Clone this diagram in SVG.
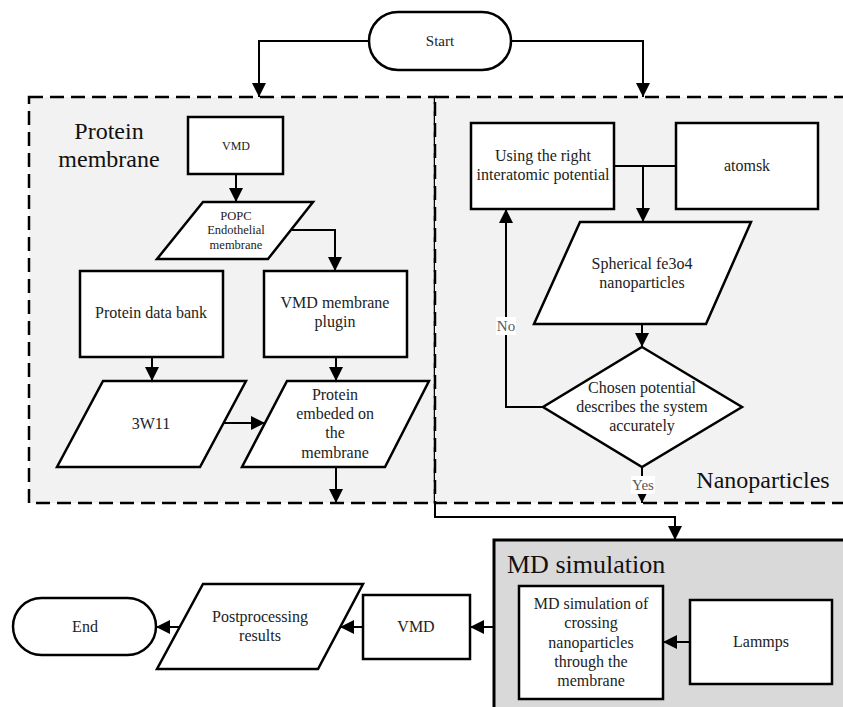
<svg xmlns="http://www.w3.org/2000/svg" width="843" height="707" viewBox="0 0 843 707">
<defs>
<marker id="ah" markerUnits="userSpaceOnUse" markerWidth="14" markerHeight="14" viewBox="0 0 14 14" refX="14" refY="7" orient="auto">
<path d="M0,0 L14,7 L0,14 z" fill="#000"/>
</marker>
</defs>
<style>
.box{fill:#fff;stroke:#000;stroke-width:2.5}
.panel{fill:#f2f2f2;stroke:#000;stroke-width:2.5;stroke-dasharray:14 7}
.md{fill:#d9d9d9;stroke:#000;stroke-width:3}
.t{font-family:"Liberation Serif","Times New Roman",serif;font-size:16px;fill:#222;text-anchor:middle}
.s{font-size:12px}
.big{font-family:"Liberation Serif","Times New Roman",serif;font-size:24px;fill:#111}
.lbl{font-family:"Liberation Serif","Times New Roman",serif;font-size:15px;fill:#595959;text-anchor:middle}
.c{fill:none;stroke:#000;stroke-width:2}
.ca{fill:none;stroke:#000;stroke-width:2;marker-end:url(#ah)}
</style>
<rect width="843" height="707" fill="#fff"/>

<g id="panel-protein">
<rect class="panel" x="29" y="97" width="406" height="406"/>
<text class="big" x="109" y="139" text-anchor="middle">Protein</text>
<text class="big" x="109" y="167" text-anchor="middle">membrane</text>
</g>
<g id="panel-nano">
<rect class="panel" x="435" y="97" width="412" height="406"/>
<text class="big" x="763" y="488" text-anchor="middle">Nanoparticles</text>
</g>
<g id="panel-md">
<rect class="md" x="494" y="540" width="353" height="172"/>
<text class="big" x="507" y="573" style="font-size:26px">MD simulation</text>
</g>

<g id="connectors">
<polyline class="ca" points="369,41 259,41 259,97"/>
<polyline class="ca" points="511,41 643,41 643,97"/>
<line class="ca" x1="236" y1="174" x2="236" y2="202"/>
<polyline class="ca" points="292,230 335,230 335,271"/>
<line class="ca" x1="152" y1="357" x2="152" y2="381"/>
<line class="ca" x1="336" y1="357" x2="336" y2="381"/>
<line class="ca" x1="223" y1="423" x2="265" y2="423"/>
<line class="ca" x1="336" y1="467" x2="336" y2="503"/>
<line class="c" x1="614" y1="166" x2="676" y2="166"/>
<line class="ca" x1="643" y1="166" x2="643" y2="222"/>
<line class="ca" x1="642" y1="324" x2="642" y2="347"/>
<polyline class="ca" points="543,407 506,407 506,209"/>
<line class="ca" x1="642" y1="467" x2="642" y2="503"/>
<polyline class="ca" points="435,503 435,517 675,517 675,540"/>
<line class="ca" x1="690" y1="642" x2="663" y2="642"/>
<line class="ca" x1="494" y1="627" x2="470" y2="627"/>
<line class="ca" x1="363" y1="627" x2="340" y2="627"/>
<line class="ca" x1="180" y1="627" x2="156" y2="627"/>
<rect x="496" y="317" width="20" height="18" fill="#fff"/>
<text class="lbl" x="506" y="331">No</text>
<rect x="631" y="476" width="24" height="18" fill="#fff"/>
<text class="lbl" x="643" y="490">Yes</text>
</g>

<g id="start">
<rect class="box" x="369" y="12" width="142" height="58" rx="29"/>
<text class="t" x="440" y="46" style="font-size:15px">Start</text>
</g>
<g id="vmd-top">
<rect class="box" x="188" y="117" width="95" height="57"/>
<text class="t s" x="236" y="150">VMD</text>
</g>
<g id="popc">
<polygon class="box" points="203,202 313,202 268,259 157,259"/>
<text class="t" style="font-size:12.5px" x="236" y="220">POPC</text>
<text class="t" style="font-size:12.5px" x="236" y="234">Endothelial</text>
<text class="t" style="font-size:12.5px" x="236" y="249">membrane</text>
</g>
<g id="pdb">
<rect class="box" x="80" y="271" width="143" height="86"/>
<text class="t" x="151" y="318">Protein data bank</text>
</g>
<g id="vmd-plugin">
<rect class="box" x="264" y="271" width="143" height="86"/>
<text class="t" x="335" y="308">VMD membrane</text>
<text class="t" x="335" y="327">plugin</text>
</g>
<g id="w311">
<polygon class="box" points="103,381 246,381 200,467 57,467"/>
<text class="t" x="151" y="429">3W11</text>
</g>
<g id="embedded">
<polygon class="box" points="287,381 429,381 385,467 242,467"/>
<text class="t" x="335" y="400">Protein</text>
<text class="t" x="335" y="419">embeded on</text>
<text class="t" x="335" y="438">the</text>
<text class="t" x="335" y="458">membrane</text>
</g>
<g id="potential">
<rect class="box" x="471" y="123" width="143" height="86"/>
<text class="t" x="543" y="161">Using the right</text>
<text class="t" x="543" y="180">interatomic potential</text>
</g>
<g id="atomsk">
<rect class="box" x="676" y="123" width="142" height="86"/>
<text class="t" x="747" y="171">atomsk</text>
</g>
<g id="spherical">
<polygon class="box" points="580,222 751,222 706,324 534,324"/>
<text class="t" x="642" y="269">Spherical fe3o4</text>
<text class="t" x="642" y="288">nanoparticles</text>
</g>
<g id="decision">
<polygon class="box" points="642,347 742,407 642,467 543,407"/>
<text class="t" x="642" y="393">Chosen potential</text>
<text class="t" x="642" y="412">describes the system</text>
<text class="t" x="642" y="431">accurately</text>
</g>
<g id="md-sim">
<rect class="box" x="519" y="586" width="144" height="113"/>
<text class="t" x="591" y="609">MD simulation of</text>
<text class="t" x="591" y="628">crossing</text>
<text class="t" x="591" y="648">nanoparticles</text>
<text class="t" x="591" y="667">through the</text>
<text class="t" x="591" y="686">membrane</text>
</g>
<g id="lammps">
<rect class="box" x="690" y="600" width="142" height="84"/>
<text class="t" x="761" y="647">Lammps</text>
</g>
<g id="vmd-bottom">
<rect class="box" x="363" y="595" width="107" height="64"/>
<text class="t" x="416" y="632">VMD</text>
</g>
<g id="postprocessing">
<polygon class="box" points="203,584 363,584 318,669 157,669"/>
<text class="t" x="260" y="622">Postprocessing</text>
<text class="t" x="260" y="641">results</text>
</g>
<g id="end">
<rect class="box" x="13" y="598" width="143" height="57" rx="28.5"/>
<text class="t" x="85" y="632">End</text>
</g>
</svg>
